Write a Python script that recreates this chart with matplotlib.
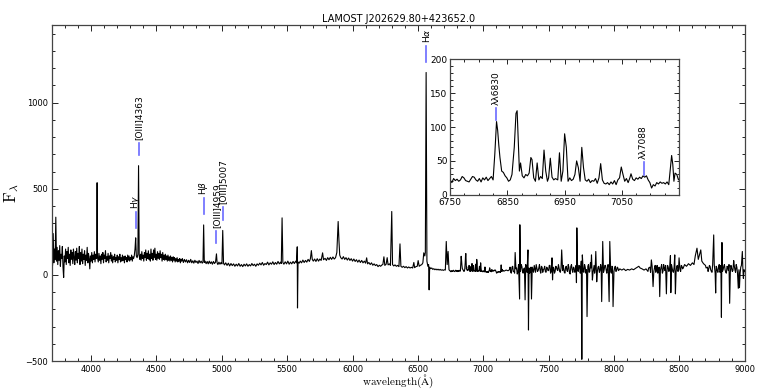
import numpy as np
import matplotlib
matplotlib.use("Agg")
import matplotlib.pyplot as plt
from matplotlib.ticker import MultipleLocator

# ---------------- data ----------------
wave_blue = [3700, 3705, 3710, 3715, 3720, 3725, 3730, 3735, 3740, 3745, 3750, 3755, 3760, 3765,
             3770, 3775, 3780, 3785, 3790, 3795, 3800, 3805, 3810, 3815, 3820, 3825, 3830, 3835,
             3840, 3845, 3850, 3855, 3860, 3865, 3870, 3875, 3880, 3885, 3890, 3895, 3900, 3905,
             3910, 3915, 3920, 3925, 3930, 3935, 3940, 3945, 3950, 3955, 3960, 3965, 3970, 3975,
             3980, 3985, 3990, 3995, 4000, 4005, 4010, 4015, 4020, 4025, 4030, 4035, 4040, 4043,
             4046, 4049,
             4055, 4060, 4065, 4070, 4075, 4080, 4085, 4090, 4095, 4100, 4105, 4110, 4115, 4120,
             4125, 4130, 4135, 4140, 4145, 4150, 4155, 4160, 4165, 4170, 4175, 4180, 4185, 4190,
             4195, 4200, 4205, 4210, 4215, 4220, 4225, 4230, 4235, 4240, 4245, 4250, 4255, 4260,
             4265, 4270, 4275, 4280, 4285, 4290, 4295, 4300, 4305, 4310, 4315, 4320, 4325, 4330,
             4336, 4341, 4346, 4352, 4358, 4363, 4368,
             4373, 4378, 4383, 4388, 4393, 4398, 4403, 4408, 4413, 4418, 4423, 4428, 4433, 4438,
             4443, 4448, 4453, 4458, 4463, 4468, 4473, 4478, 4483, 4488, 4493, 4498, 4503, 4508,
             4513, 4518, 4523, 4528, 4533, 4538, 4543, 4548, 4553, 4558, 4563, 4568, 4573, 4578,
             4583, 4588, 4593, 4598, 4603, 4608, 4613, 4618, 4623, 4628, 4633, 4638, 4643, 4648,
             4653, 4658, 4663, 4668, 4673, 4678, 4683, 4688, 4693, 4698,
             4706, 4714, 4722, 4730, 4738, 4746, 4754, 4762, 4770, 4778, 4786, 4794, 4802, 4810,
             4818, 4826, 4834, 4842, 4850, 4856, 4861, 4866, 4872, 4880, 4888, 4896, 4904, 4912,
             4920, 4928, 4936, 4944, 4952, 4959, 4964, 4970, 4978, 4986, 4994, 5001, 5007, 5013]
flux_blue = [120, 55, 240, 70, 150, 90, 335, 80, 160, 60, 140, 85, 170, 50,
             120, 95, 165, 45, -15, 110, 75, 150, 60, 135, 95, 160, 70, 120,
             55, 145, 90, 130, 65, 150, 100, 60, 135, 85, 155, 70, 125, 95,
             165, 60, 130, 80, 150, 65, 120, 90, 140, 55, 115, 85, 160, 70,
             125, 95, 35, 110, 80, 130, 70, 115, 90, 135, 75, 120, 95, 110,
             535, 100,
             75, 125, 85, 110, 65, 120, 90, 130, 70, 115, 95, 140, 75, 105,
             85, 125, 70, 110, 95, 130, 80, 115, 70, 105, 90, 120, 75, 100,
             85, 115, 70, 105, 90, 120, 75, 100, 80, 115, 85, 105, 70, 110,
             90, 100, 75, 115, 85, 110, 80, 100, 90, 115, 80, 105, 95, 110,
             150, 215, 110, 100, 120, 634, 110,
             90, 120, 85, 135, 95, 115, 80, 130, 100, 145, 85, 125, 95, 140,
             90, 120, 80, 150, 95, 125, 85, 145, 100, 155, 90, 120, 85, 135,
             95, 125, 90, 140, 100, 120, 80, 130, 90, 115, 85, 120, 90, 110,
             80, 115, 85, 105, 80, 110, 85, 100, 75, 105, 85, 100, 75, 95,
             80, 100, 75, 90, 80, 95, 70, 90, 80, 95,
             72, 90, 75, 88, 70, 85, 72, 90, 70, 82, 68, 85, 72, 80,
             66, 84, 70, 80, 68, 75, 290, 72, 80, 65, 78, 64, 80, 66,
             76, 62, 78, 66, 74, 122, 70, 60, 74, 62, 72, 64, 258, 68]

wave_mid = [5020, 5030, 5040, 5050, 5060, 5070, 5080, 5090, 5100, 5110, 5120, 5130, 5140, 5150,
            5160, 5170, 5180, 5190, 5200, 5210, 5220, 5230, 5240, 5250, 5260, 5270, 5280, 5290,
            5300, 5310, 5320, 5330, 5340, 5350, 5360, 5370, 5380, 5390, 5400, 5410, 5420, 5430,
            5440, 5450, 5455, 5461, 5467, 5475, 5485, 5495, 5505, 5515, 5525, 5535, 5545, 5555,
            5565, 5572, 5577, 5579, 5583, 5592, 5600, 5610, 5620, 5630, 5640, 5650, 5660, 5670,
            5678, 5685, 5692, 5700, 5710, 5720, 5730, 5740, 5750, 5760, 5771, 5778, 5790, 5800,
            5810, 5820, 5830, 5840, 5850, 5860, 5870, 5880, 5890, 5896, 5902, 5910, 5920, 5930,
            5940, 5950, 5960, 5970, 5980, 5990, 6000, 6010, 6020, 6030, 6040, 6050, 6060, 6070,
            6080, 6090, 6100, 6108, 6115, 6125, 6135, 6145, 6155, 6165, 6175, 6185, 6195, 6205,
            6215, 6225, 6232, 6240, 6247, 6257, 6265, 6272, 6282, 6290, 6300, 6306, 6315, 6325,
            6335, 6345, 6355, 6363, 6370, 6380, 6390, 6400, 6410, 6420, 6430, 6440, 6450, 6460,
            6469, 6475, 6485, 6495, 6502, 6510, 6520, 6530, 6538, 6545, 6553, 6557, 6563, 6569,
            6576, 6582, 6586, 6590, 6598, 6606, 6614, 6622, 6630, 6638, 6646, 6654, 6662, 6670,
            6678, 6686, 6694, 6702, 6710, 6717, 6724, 6731, 6738, 6744]
flux_mid = [58, 70, 55, 68, 52, 66, 54, 64, 50, 62, 52, 66, 50, 60,
            48, 62, 52, 64, 50, 60, 52, 66, 54, 62, 50, 64, 56, 68,
            58, 72, 56, 66, 60, 74, 58, 70, 62, 76, 60, 72, 62, 78,
            64, 74, 66, 331, 72, 62, 76, 64, 80, 62, 74, 64, 78, 66,
            80, 70, 163, -192, 75, 68, 80, 70, 86, 72, 84, 74, 90, 78,
            95, 141, 90, 80, 92, 78, 94, 80, 92, 84, 128, 88, 96, 84,
            100, 88, 102, 90, 104, 92, 100, 130, 310, 200, 115, 100, 92, 106,
            90, 100, 86, 98, 84, 94, 80, 92, 78, 88, 74, 86, 72, 84,
            70, 80, 68, 99, 64, 72, 60, 70, 56, 64, 54, 60, 48, 56,
            50, 58, 60, 105, 55, 62, 100, 58, 64, 55, 368, 60, 52, 58,
            50, 55, 48, 180, 50, 44, 50, 42, 48, 40, 46, 40, 44, 40,
            72, 42, 48, 50, 83, 50, 56, 60, 70, 128, 110, 130, 1175, 80,
            50, 60, -87, 45, 36, 40, 32, 36, 30, 34, 29, 33, 28, 32,
            27, 30, 26, 30, 28, 194, 60, 136, 30, 24]

wave_zoom = [6750, 6753, 6756, 6759, 6762, 6765, 6768, 6771, 6774, 6777, 6780, 6783, 6786, 6789,
             6792, 6795, 6798, 6801, 6804, 6807, 6810, 6813, 6816, 6819, 6822, 6825, 6828, 6831,
             6833, 6835, 6837, 6840, 6843, 6846, 6849, 6852, 6855, 6858, 6862, 6865, 6867, 6869,
             6871, 6873, 6876, 6879, 6882, 6885, 6888, 6891, 6893, 6896, 6899, 6902, 6905, 6908,
             6911, 6914, 6917, 6920, 6922, 6925, 6928, 6931, 6934, 6938, 6941, 6944, 6947, 6950,
             6953, 6956, 6959, 6962, 6965, 6968, 6971, 6974, 6977, 6980, 6983, 6986, 6989, 6992,
             6995, 6998, 7001, 7004, 7007, 7010, 7013, 7016, 7019, 7022, 7025, 7028, 7031, 7034,
             7037, 7040, 7043, 7046, 7049, 7052, 7055, 7058, 7061, 7064, 7066, 7069, 7072, 7075,
             7078, 7081, 7084, 7087, 7090, 7093, 7096, 7099, 7102, 7105, 7108, 7111, 7114, 7117,
             7120, 7123, 7126, 7129, 7132, 7135, 7137, 7139, 7141, 7143, 7146, 7149, 7152, 7160,
             7175, 7190]
flux_zoom = [22, 18, 24, 21, 23, 20, 22, 27, 25, 21, 20, 19, 23, 27,
             26, 22, 20, 24, 19, 25, 22, 26, 21, 24, 27, 22, 60, 108,
             95, 73, 55, 35, 33, 28, 25, 20, 22, 30, 70, 120, 124, 80,
             35, 47, 28, 25, 30, 28, 32, 55, 52, 25, 20, 47, 22, 27,
             24, 66, 35, 20, 25, 54, 26, 22, 24, 22, 62, 20, 35, 90,
             70, 20, 25, 21, 23, 30, 50, 40, 20, 70, 40, 22, 20, 23,
             18, 21, 20, 24, 17, 25, 46, 22, 17, 16, 18, 15, 19, 16,
             21, 15, 22, 25, 41, 30, 20, 24, 18, 25, 31, 23, 21, 25,
             23, 26, 24, 28, 26, 28, 22, 18, 10, 15, 13, 18, 16, 19,
             17, 18, 16, 19, 15, 40, 58, 45, 20, 32, 30, 22, 25, 22,
             28, 24]

wave_red = [7200, 7210, 7220, 7230, 7240, 7244, 7250, 7260, 7270, 7278, 7280, 7285, 7295, 7305,
            7315, 7320, 7325, 7335, 7342, 7346, 7350, 7360, 7369, 7375, 7385, 7395, 7405, 7415,
            7425, 7435, 7445, 7455, 7465, 7475, 7485, 7495, 7505, 7515, 7526, 7530, 7540, 7550,
            7560, 7570, 7580, 7590, 7600, 7607, 7615, 7625, 7635, 7645, 7655, 7665, 7675, 7685,
            7695, 7705, 7713, 7716, 7722, 7732, 7742, 7750, 7754, 7758, 7765, 7775, 7785, 7794,
            7800, 7810, 7820, 7828, 7835, 7845, 7852, 7861, 7868, 7878, 7888, 7898, 7906, 7914,
            7925, 7935, 7945, 7955, 7963, 7968, 7975, 7985, 7993, 8005, 8015, 8025, 8035, 8045,
            8060, 8075, 8090, 8105, 8120, 8135, 8150, 8165, 8180, 8190, 8200, 8215, 8230, 8245,
            8260, 8275, 8286, 8299, 8310, 8320, 8330, 8340, 8350, 8360, 8370, 8380, 8390, 8401,
            8410, 8420, 8432, 8435, 8445, 8455, 8465, 8470, 8480, 8490, 8498, 8505, 8515, 8525,
            8540, 8555, 8570, 8585, 8600, 8612, 8622, 8635, 8645, 8655, 8664, 8672, 8685, 8700,
            8715, 8725, 8735, 8745, 8755, 8763, 8770, 8778, 8785, 8795, 8805, 8815, 8822, 8826,
            8835, 8845, 8855, 8865, 8875, 8885, 8895, 8905, 8916, 8925, 8935, 8945, 8951, 8960,
            8970, 8982, 8990, 9000]
flux_red = [30, 15, 45, 20, 10, 130, 35, 5, 60, -140, 291, 20, 50, 10,
            40, -145, 60, 15, 145, -320, 40, 20, -140, 45, 15, 35, 60, 20,
            40, 25, 50, 15, 35, 20, 45, 25, 55, 10, 99, -29, 40, 20,
            45, 25, 40, 15, 145, 25, 40, 10, 50, 20, 45, 5, 60, 15,
            40, 20, -45, 273, 25, 55, 10, 80, -490, 116, 20, 60, 10, -242,
            50, 15, 70, 116, -30, 40, 10, 136, -40, 45, 15, 60, -155, 194,
            30, 55, 10, 60, -155, 194, 20, 50, -184, 40, 20, 45, 25, 35,
            28, 35, 25, 32, 28, 35, 30, 38, 45, 50, 40, 35, 28, 35,
            20, 45, 87, -68, 40, 15, 55, 20, -126, 45, 10, 60, 25, -110,
            55, 20, 112, -103, 40, 15, 116, -110, 50, 20, 99, 30, 55, 35,
            60, 50, 65, 55, 70, 60, 110, 155, 90, 120, 145, 80, 65, 55,
            45, 35, 50, 20, 60, 232, 40, -105, 45, 15, 60, 20, -246, 188,
            30, 60, 15, 50, 25, -165, 55, 20, 83, 30, 60, 10, -78, -74,
            45, 136, -20, 20]

# extra pixels read in the noisy red part (merged by wavelength)
wave_red_fill = [7205, 7215, 7225, 7235, 7255, 7265, 7290, 7300, 7310, 7330, 7355, 7365,
                 7380, 7390, 7400, 7410, 7420, 7430, 7440, 7450, 7460, 7470, 7480, 7490,
                 7500, 7510, 7520, 7535, 7545, 7555, 7565, 7575, 7585, 7595, 7611, 7620,
                 7630, 7640, 7650, 7660, 7670, 7680, 7690, 7700, 7710, 7727, 7737, 7746,
                 7770, 7780, 7790, 7805, 7815, 7824, 7840, 7848, 7856, 7873, 7883, 7893,
                 7902, 7920, 7930, 7940, 7950, 7980, 7989, 8000, 8010, 8020, 8030, 8040,
                 8265, 8280, 8292, 8305, 8315, 8325, 8335, 8345, 8355, 8365, 8375, 8385,
                 8395, 8405, 8415, 8425, 8440, 8450, 8460, 8475, 8485, 8494, 8510, 8520,
                 8530,
                 8705, 8720, 8730, 8740, 8750, 8767, 8774, 8782, 8790, 8800, 8810, 8818,
                 8830, 8840, 8850, 8860, 8870, 8880, 8890, 8900, 8910, 8920, 8930, 8940,
                 8956, 8965, 8975, 8986, 8995]
flux_red_fill = [45, 10, 50, 20, 40, 15, 60, 25, 35, 50, 10, 45,
                 30, 55, 15, 40, 25, 60, 10, 45, 30, 50, 15, 40,
                 25, 55, 20, 45, 10, 50, 30, 60, 20, 40, 55, 15,
                 45, 25, 60, 10, 50, 30, 45, 15, 55, 20, 50, 35,
                 15, 45, 30, 60, 20, 40, 15, 55, 30, 20, 50, 25,
                 45, 15, 55, 30, 40, 10, 45, 20, 50, 25, 40, 30,
                 40, 15, 50, 20, 55, 30, 10, 45, 25, 60, 20, 40,
                 55, 15, 45, 30, 60, 20, 45, 15, 55, 35, 20, 50,
                 40,
                 40, 20, 55, 30, 15, 60, 10, 50, 25, 45, 15, 55,
                 20, 50, 30, 10, 45, 60, 15, 40, 25, 55, 15, 45,
                 30, 10, 55, 40, 30]

# emission-line markers: (wavelength, marker bottom, marker top, label)
main_line_wave = [4340, 4363, 4861, 4959, 5007, 6563]
main_line_lo = [273, 698, 355, 186, 320, 1238]
main_line_hi = [366, 767, 448, 256, 395, 1326]
main_line_text = [r'H$\gamma$', '[OIII]4363', r'H$\beta$', '[OIII]4959', '[OIII]5007', r'H$\alpha$']

inset_line_wave = [6830, 7088]
inset_line_lo = [110, 29]
inset_line_hi = [128, 48]
inset_line_text = [u'\u03bb\u03bb6830', u'\u03bb\u03bb7088']

title = 'LAMOST J202629.80+423652.0'

# ---------------- plotting ----------------
wave = np.array(wave_blue + wave_mid + wave_zoom + wave_red + wave_red_fill, dtype=float)
flux = np.array(flux_blue + flux_mid + flux_zoom + flux_red + flux_red_fill, dtype=float)
order = np.argsort(wave, kind='stable')
wave, flux = wave[order], flux[order]

plt.rcParams['font.family'] = ['DejaVu Sans']
fig = plt.figure(figsize=(7.63, 3.92), dpi=100)
ax = fig.add_axes([0.068, 0.079, 0.908, 0.857])
ax.plot(wave, flux, color='black', lw=0.8)
ax.set_xlim(3700, 9000)
ax.set_ylim(-500, 1450)
ax.set_xticks([4000, 4500, 5000, 5500, 6000, 6500, 7000, 7500, 8000, 8500, 9000])
ax.set_yticks([-500, 0, 500, 1000])
ax.xaxis.set_minor_locator(MultipleLocator(100))
ax.yaxis.set_minor_locator(MultipleLocator(100))
ax.tick_params(which='both', direction='in', top=True, right=True, labelsize=6, pad=3)
ax.tick_params(which='major', length=4, width=0.6)
ax.tick_params(which='minor', length=2, width=0.6)
for s in ax.spines.values():
    s.set_linewidth(0.9)
    s.set_color('#444444')
ax.set_title(title, fontsize=7, pad=2)
ax.set_xlabel(r'$\mathrm{wavelength(\AA)}$', fontsize=8, math_fontfamily='cm')
ax.xaxis.set_label_coords(0.5, -0.036)
ax.set_ylabel(r'$\mathrm{F_{\lambda}}$', fontsize=12, math_fontfamily='cm')
ax.yaxis.set_label_coords(-0.045, 0.5)

for w, lo, hi, t in zip(main_line_wave, main_line_lo, main_line_hi, main_line_text):
    ax.plot([w, w], [lo, hi], color='#6a6aff', lw=1.2)
    ax.text(w, hi + 18, t, rotation=90, ha='center', va='bottom', fontsize=6.5)

ins = fig.add_axes([0.590, 0.503, 0.300, 0.346])
ins.plot(wave, flux, color='black', lw=0.8)
ins.set_xlim(6750, 7150)
ins.set_ylim(0, 200)
ins.set_xticks([6750, 6850, 6950, 7050])
ins.set_yticks([0, 50, 100, 150, 200])
ins.xaxis.set_minor_locator(MultipleLocator(25))
ins.yaxis.set_minor_locator(MultipleLocator(10))
ins.tick_params(which='both', direction='in', top=True, right=True, labelsize=6.5, pad=2)
ins.tick_params(which='major', length=3.5, width=0.6)
ins.tick_params(which='minor', length=1.8, width=0.6)
for s in ins.spines.values():
    s.set_linewidth(0.9)
    s.set_color('#444444')
for w, lo, hi, t in zip(inset_line_wave, inset_line_lo, inset_line_hi, inset_line_text):
    ins.plot([w, w], [lo, hi], color='#6a6aff', lw=1.2)
    ins.text(w, hi + 5, t, rotation=90, ha='center', va='bottom', fontsize=6.5)

fig.savefig('out.png', dpi=100)
